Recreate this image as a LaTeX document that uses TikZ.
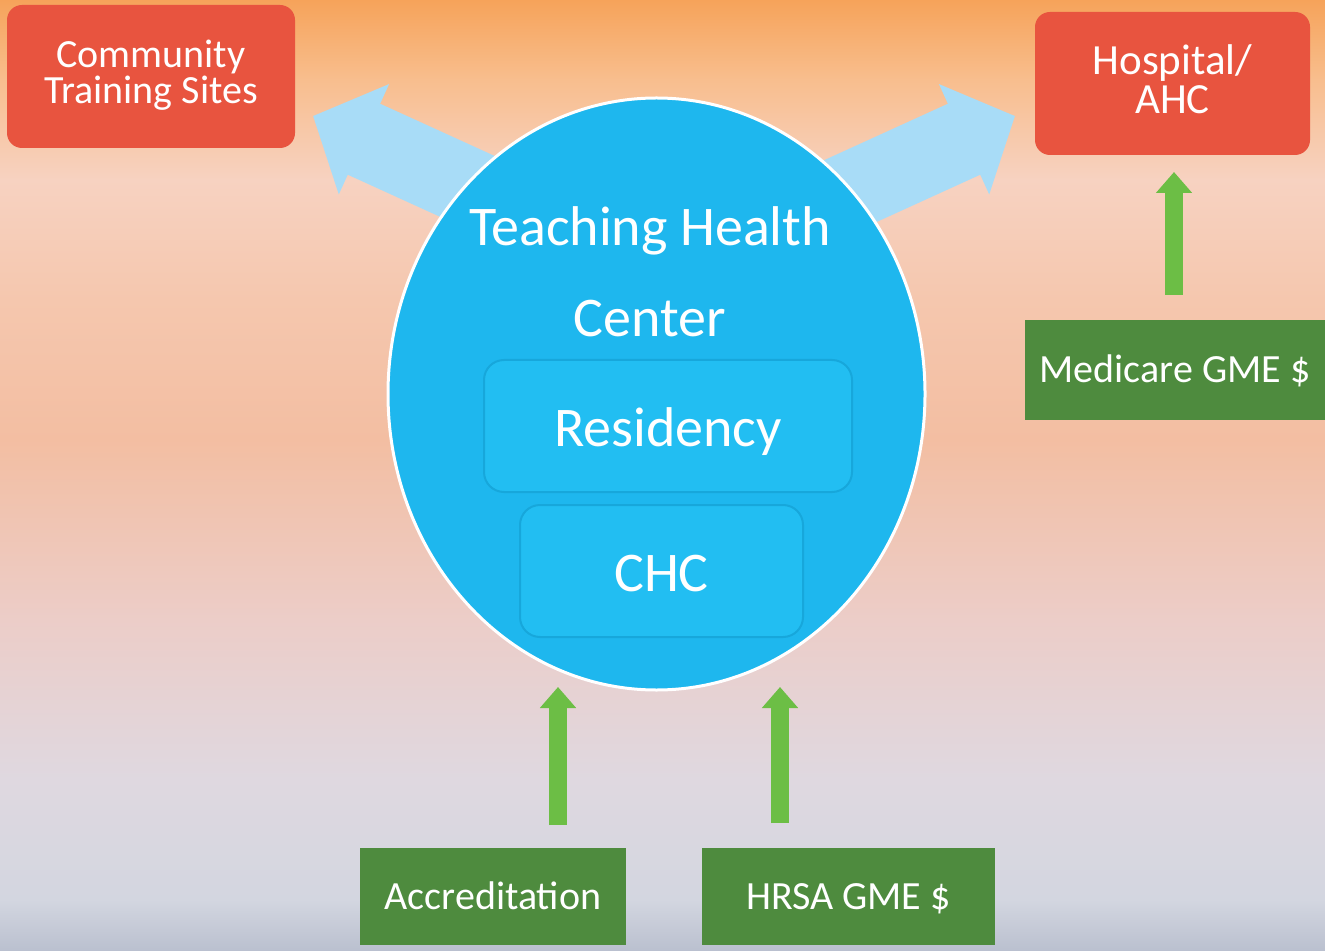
\documentclass[tikz,border=0pt]{standalone}
\usepackage{fontspec}
\setmainfont{Carlito}
\usetikzlibrary{arrows.meta,shapes.geometric}
\definecolor{bgA}{HTML}{F6A35A}
\definecolor{bgB}{HTML}{F8BE8E}
\definecolor{bgC}{HTML}{F7D2C1}
\definecolor{bgD}{HTML}{F5C7AE}
\definecolor{bgE}{HTML}{F3BEA2}
\definecolor{bgF}{HTML}{ECCDC8}
\definecolor{bgG}{HTML}{DFD8E0}
\definecolor{bgH}{HTML}{D3D6E0}
\definecolor{bgI}{HTML}{BAC0CF}
\definecolor{redbox}{HTML}{E8543F}
\definecolor{greenbox}{HTML}{4E8B3E}
\definecolor{greenarr}{HTML}{6CBE45}
\definecolor{lightblue}{HTML}{A8DCF7}
\definecolor{circblue}{HTML}{1EB7EE}
\definecolor{innerblue}{HTML}{22BEF2}
\definecolor{innerline}{HTML}{17A7DB}
\tikzset{
  redrect/.style={fill=redbox, draw=none, rounded corners=7.5pt, inner sep=0pt, align=center,
    text=white, font=\fontsize{20}{18}\selectfont},
  boxlabel/.style={text=white, align=center, inner sep=0pt},
  greenrect/.style={fill=greenbox, draw=none, inner sep=0pt, text=white,
    font=\fontsize{20}{24}\selectfont, text height=13pt, text depth=0pt},
  innerbox/.style={fill=innerblue, draw=innerline, line width=1pt, rounded corners=10pt,
    inner sep=0pt, text=white, font=\fontsize{28}{32}\selectfont, text height=20pt, text depth=0pt},
  bigcirc/.style={ellipse, fill=circblue, draw=white, line width=1.5pt, inner sep=0pt},
  titletext/.style={text=white, font=\fontsize{28}{32}\selectfont, anchor=base, inner sep=0pt},
  bluearrow/.style={draw=lightblue, line width=39pt, line cap=butt,
    -{Triangle[width=59pt,length=28pt]}, lightblue},
  greenarrowstyle/.style={draw=greenarr, line width=9pt, line cap=butt,
    -{Triangle[width=17.5pt,length=10.5pt]}, greenarr},
}
\begin{document}
\begin{tikzpicture}[x=0.5pt,y=-0.5pt]
\useasboundingbox (0,0) rectangle (1325,951);
% background
\fill[top color=bgA, bottom color=bgB] (0,0) rectangle (1325,80);
\fill[top color=bgB, bottom color=bgC] (0,79.5) rectangle (1325,180);
\fill[top color=bgC, bottom color=bgD] (0,179.5) rectangle (1325,300);
\fill[top color=bgD, bottom color=bgE] (0,299.5) rectangle (1325,440);
\fill[top color=bgE, bottom color=bgF] (0,439.5) rectangle (1325,620);
\fill[top color=bgF, bottom color=bgG] (0,619.5) rectangle (1325,780);
\fill[top color=bgG, bottom color=bgH] (0,779.5) rectangle (1325,900);
\fill[top color=bgH, bottom color=bgI] (0,899.5) rectangle (1325,951);

% boxes
\node[redrect, minimum width=144pt, minimum height=71.5pt] (cts) at (151,76.5) {};
\node[boxlabel, font=\fontsize{20}{18}\selectfont] (ctsT) at (151,75) {Community\\Training Sites};
\node[redrect, minimum width=137.5pt, minimum height=71.5pt] (hosp) at (1172.5,83.5) {};
\node[boxlabel, font=\fontsize{21.5}{19.5}\selectfont] (hospT) at (1172.5,79) {Hospital/\\AHC};
\node[greenrect, minimum width=150pt, minimum height=50pt] (med) at (1175,370) {Medicare GME \$};
\node[greenrect, minimum width=133pt, minimum height=48.5pt] (acc) at (493,896.5) {Accreditation};
\node[greenrect, minimum width=146.5pt, minimum height=48.5pt] (hrsa) at (848.5,896.5) {HRSA GME \$};

% connector end points
\coordinate (ltail) at (620,256);
\coordinate (ltip) at (313,116);
\coordinate (rtail) at (708,256);
\coordinate (rtip) at (1015,116);
\coordinate (accS) at (558,825);
\coordinate (accT) at (558,687);
\coordinate (hrsaS) at (780,823);
\coordinate (hrsaT) at (780,687);
\coordinate (medS) at (1174,295);
\coordinate (medT) at (1174,172);

% blue arrows (behind the circle)
\draw[bluearrow] (ltail) -- (ltip);
\draw[bluearrow] (rtail) -- (rtip);

% circle
\node[bigcirc, minimum width=268.5pt, minimum height=296pt] (thc) at (656.5,394) {};
\node[titletext] (thcA) at (650,246) {Teaching Health};
\node[titletext] (thcB) at (650,337) {Center};
\node[innerbox, minimum width=184pt, minimum height=66pt] (res) at (668,426) {Residency};
\node[innerbox, minimum width=141.5pt, minimum height=66pt] (chc) at (661.5,571) {CHC};

% green arrows
\draw[greenarrowstyle] (accS) -- (accT);
\draw[greenarrowstyle] (hrsaS) -- (hrsaT);
\draw[greenarrowstyle] (medS) -- (medT);
\end{tikzpicture}
\end{document}
